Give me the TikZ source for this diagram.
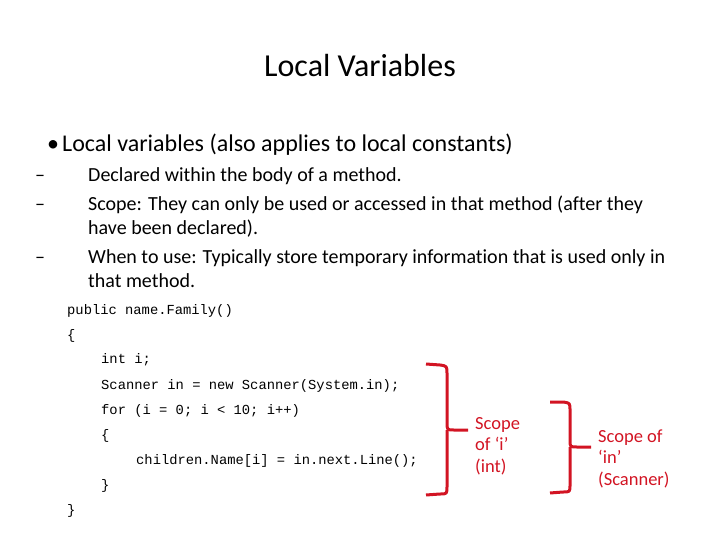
\documentclass[tikz,border=0pt]{standalone}
\usepackage{fontspec}
\setmainfont[RawFeature=-liga]{Carlito}
\setmonofont{Liberation Mono}
\usetikzlibrary{positioning}
\definecolor{scopered}{RGB}{210,20,35}
\begin{document}
\begin{tikzpicture}[x=1pt,y=-1pt,
  title/.style={anchor=base,inner sep=0pt,font=\fontsize{32}{34}\selectfont},
  bullet/.style={anchor=base west,inner sep=0pt,font=\fontsize{24}{26}\selectfont},
  subbullet/.style={anchor=base west,inner sep=0pt,font=\fontsize{20}{22}\selectfont},
  code/.style={anchor=base west,inner sep=0pt,font=\ttfamily\fontsize{13.8}{15}\selectfont},
  scopetext/.style={anchor=base west,inner sep=0pt,align=left,text=scopered,
    font=\fontsize{18.5}{21.5}\selectfont},
  brace/.style={draw=scopered,line width=3pt,line join=round}
]
\useasboundingbox (0,0) rectangle (720,540);

\node[title] (title) at (360,77) {Local Variables};

\node[bullet] (b1dot) at (47,152) {\textbullet};
\node[bullet] (b1) at (62,152) {Local variables (also applies to local constants)};

\node[subbullet] (d1) at (35,182) {--};
\node[subbullet] (s1) at (88,182) {Declared within\ the body of a method.};
\node[subbullet] (d2) at (35,211) {--};
\node[subbullet] (s2) at (88,211) {Scope: They can only be used or accessed in that method (after they};
\node[subbullet] (s2b) at (88,234) {have been declared).};
\node[subbullet] (d3) at (35,263) {--};
\node[subbullet] (s3) at (88,263) {When to use: Typically store temporary information that is used only in};
\node[subbullet] (s3b) at (88,287) {that method.};

% code listing
\node[code] (c1) at (67,314) {public name.Family()};
\node[code] (c2) at (67,339) {\{};
\node[code] (c3) at (101,363) {int i;};
\node[code] (c4) at (101,389) {Scanner in = new Scanner(System.in);};
\node[code] (c5) at (101,414) {for (i = 0; i < 10; i++)};
\node[code] (c6) at (101,439) {\{};
\node[code] (c7) at (136,464) {children.Name[i] = in.next.Line();};
\node[code] (c8) at (101,489) {\}};
\node[code] (c9) at (67,514) {\}};

% scope brackets
\draw[brace] (426,364) -- (440,365) .. controls (447,366) .. (447,374) -- (447,422)
  .. controls (447,430) .. (454,430) -- (468,430);
\draw[brace] (447,430) .. controls (447,438) .. (447,446) -- (447,486)
  .. controls (447,494) .. (440,494) -- (426,495);
\draw[brace] (550,402) -- (563,402) .. controls (570,403) .. (570,410) -- (570,440)
  .. controls (570,447) .. (577,447) -- (591,447);
\draw[brace] (570,447) .. controls (570,454) .. (570,461) -- (570,485)
  .. controls (570,492) .. (563,492) -- (550,493);

\node[scopetext] (si) at (475,472) {Scope\\of ‘i’\\(int)};
\node[scopetext] (sin) at (598,485) {Scope of\\‘in’\\(Scanner)};
\end{tikzpicture}
\end{document}
